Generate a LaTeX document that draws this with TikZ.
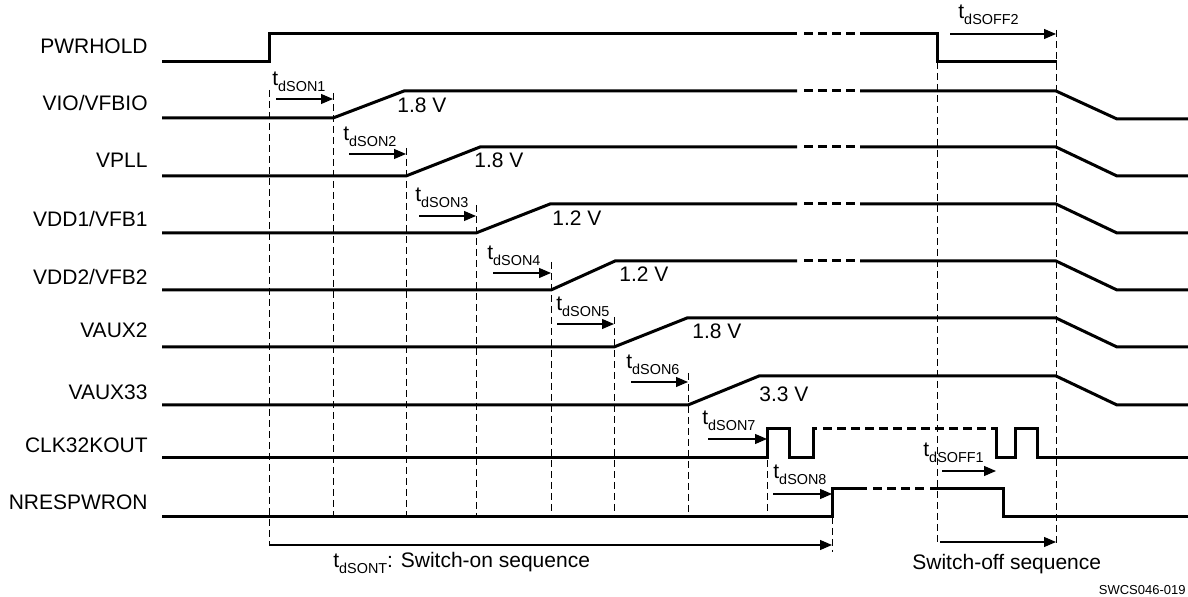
\documentclass[tikz,border=0pt]{standalone}
\usepackage{fontspec}
\setmainfont{Liberation Sans}
\usetikzlibrary{arrows.meta}
\newcommand\tsub[1]{t\raisebox{-2.6pt}{\fontsize{7.2}{8}\selectfont #1}}
\begin{document}
\begin{tikzpicture}[x=0.5pt,y=-0.5pt,
 sig/.style={line width=1.5pt, line join=miter},
 brk/.style={line width=1.5pt, dash pattern=on 4.5pt off 2.5pt},
 guide/.style={line width=0.5pt, dash pattern=on 3.5pt off 2pt},
 tarr/.style={line width=0.55pt, -{Triangle[length=6pt,width=5pt]}},
 lbl/.style={anchor=base east, inner sep=0pt, font=\fontsize{10.5}{12}\selectfont},
 txt/.style={anchor=base west, inner sep=0pt, font=\fontsize{10.5}{12}\selectfont},
]
\useasboundingbox (0,0) rectangle (1188,597);

% signal names
\node[lbl] (nPW) at (148,54) {PWRHOLD};
\node[lbl] (nVIO) at (148,111) {VIO/VFBIO};
\node[lbl] (nVPLL) at (148,168) {VPLL};
\node[lbl] (nVDD1) at (148,227) {VDD1/VFB1};
\node[lbl] (nVDD2) at (148,285) {VDD2/VFB2};
\node[lbl] (nAUX2) at (148,338) {VAUX2};
\node[lbl] (nAUX33) at (148,400) {VAUX33};
\node[lbl] (nCLK) at (148,453) {CLK32KOUT};
\node[lbl] (nNRES) at (148,510) {NRESPWRON};

% guide lines
\draw[guide] (269,90) -- (269,545);
\draw[guide] (333,93) -- (333,517);
\draw[guide] (406,148) -- (406,517);
\draw[guide] (476,205) -- (476,517);
\draw[guide] (551,262) -- (551,517);
\draw[guide] (614,317) -- (614,517);
\draw[guide] (688,373) -- (688,517);
\draw[guide] (767,460) -- (767,517);
\draw[guide] (832,517) -- (832,552);
\draw[guide] (937,62) -- (937,545);
\draw[guide] (1056,30) -- (1056,546);

% waveforms
\draw[sig] (162,62) -- (269,62) -- (269,34) -- (797,34);
\draw[brk] (804,34) -- (856,34);
\draw[sig] (860,34) -- (937,34) -- (937,62) -- (1057,62);

\draw[sig] (162,118) -- (333,118) -- (404,91) -- (797,91);
\draw[brk] (804,91) -- (856,91);
\draw[sig] (860,91) -- (1056,91) -- (1117,119) -- (1188,119);

\draw[sig] (162,176) -- (406,176) -- (480,147) -- (797,147);
\draw[brk] (804,147) -- (856,147);
\draw[sig] (860,147) -- (1056,147) -- (1117,176) -- (1188,176);

\draw[sig] (162,233) -- (476,233) -- (550,204) -- (797,204);
\draw[brk] (804,204) -- (856,204);
\draw[sig] (860,204) -- (1056,204) -- (1117,233) -- (1188,233);

\draw[sig] (162,290) -- (551,290) -- (615,261) -- (797,261);
\draw[brk] (804,261) -- (856,261);
\draw[sig] (860,261) -- (1056,261) -- (1117,290) -- (1188,290);

\draw[sig] (162,347) -- (614,347) -- (687,318) -- (1056,318) -- (1117,347) -- (1188,347);

\draw[sig] (162,405) -- (688,405) -- (759,376) -- (1056,376) -- (1117,405) -- (1188,405);

\draw[sig] (162,458) -- (767,458) -- (767,429) -- (789,429) -- (789,458) -- (813,458) -- (813,429) -- (817,429);
\draw[brk] (823,429) -- (989,429);
\draw[sig] (991,429) -- (996,429) -- (996,458) -- (1015,458) -- (1015,429) -- (1037,429) -- (1037,458) -- (1188,458);

\draw[sig] (162,517) -- (832,517) -- (832,489) -- (867,489);
\draw[brk] (873,489) -- (926,489);
\draw[sig] (930,489) -- (1003,489) -- (1003,517) -- (1188,517);

% voltage labels
\node[txt] (v1) at (397,113) {1.8 V};
\node[txt] (v2) at (474,168) {1.8 V};
\node[txt] (v3) at (552,226) {1.2 V};
\node[txt] (v4) at (619,282) {1.2 V};
\node[txt] (v5) at (692,339) {1.8 V};
\node[txt] (v6) at (759,402) {3.3 V};

% timing arrows and labels
\draw[tarr] (276,99) -- (333,99);
\node[txt] (t1) at (272,86) {\tsub{dSON1}};
\draw[tarr] (349,154) -- (406,154);
\node[txt] (t2) at (343,141) {\tsub{dSON2}};
\draw[tarr] (419,216) -- (476,216);
\node[txt] (t3) at (415,202) {\tsub{dSON3}};
\draw[tarr] (493,273) -- (551,273);
\node[txt] (t4) at (487,260) {\tsub{dSON4}};
\draw[tarr] (557,324) -- (614,324);
\node[txt] (t5) at (556,311) {\tsub{dSON5}};
\draw[tarr] (631,382) -- (688,382);
\node[txt] (t6) at (626,369) {\tsub{dSON6}};
\draw[tarr] (708,439) -- (767,439);
\node[txt] (t7) at (702,425) {\tsub{dSON7}};
\draw[tarr] (773,494) -- (832,494);
\node[txt] (t8) at (773,479) {\tsub{dSON8}};
\draw[tarr] (942,471) -- (996,471);
\node[txt] (tf1) at (923,457) {\tsub{dSOFF1}};
\draw[tarr] (950,34) -- (1056,34);
\node[txt] (tf2) at (958,19) {\tsub{dSOFF2}};

% sequence spans
\draw[tarr] (269,545) -- (832,545);
\node[txt] (son) at (333,568) {\tsub{dSONT}: Switch-on sequence};
\draw[tarr] (940,542) -- (1056,542);
\node[txt] (soff) at (912,570) {Switch-off sequence};

\node[anchor=base east, inner sep=0pt, font=\fontsize{6.5}{8}\selectfont] (ref) at (1186,595) {SWCS046-019};
\end{tikzpicture}
\end{document}
